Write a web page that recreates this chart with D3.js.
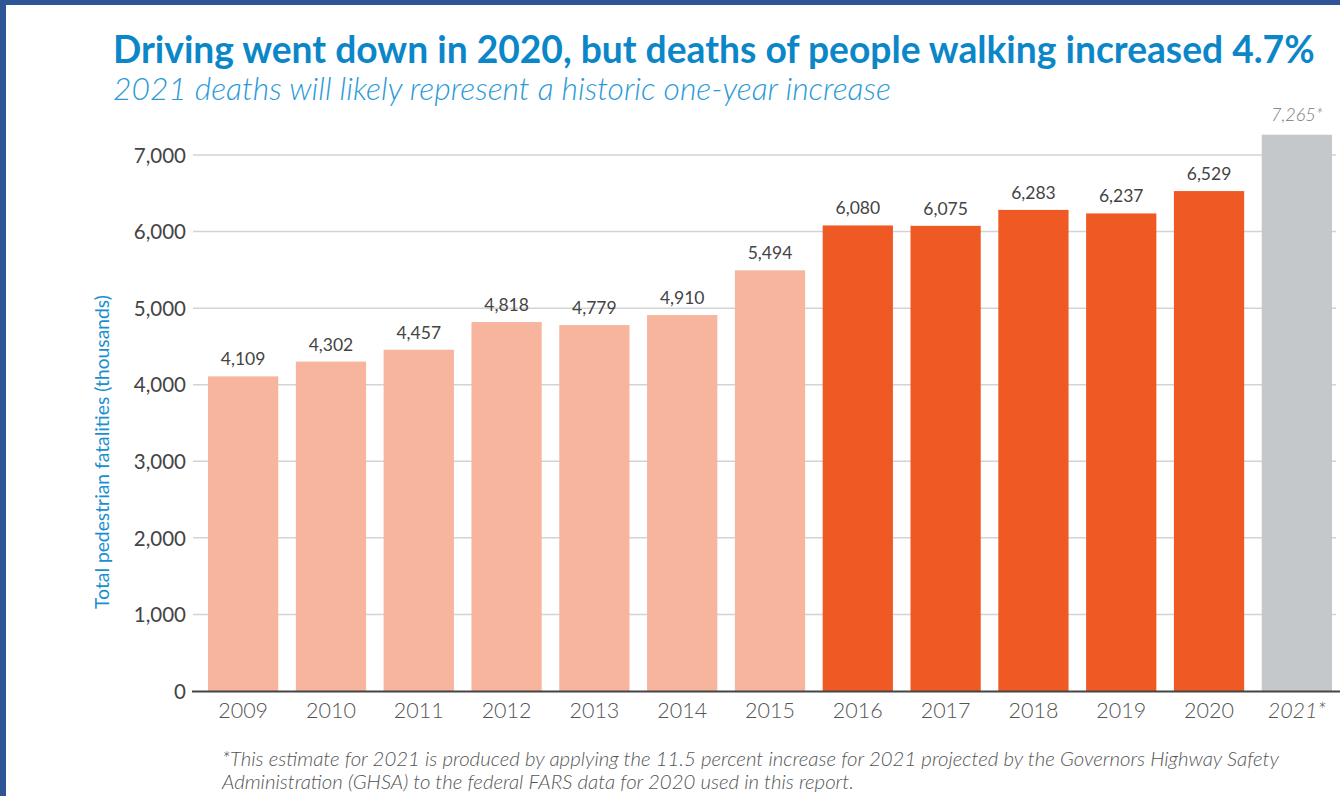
<!DOCTYPE html>
<html><head><meta charset="utf-8">
<script src="https://cdn.jsdelivr.net/npm/d3@7"></script>
<style>
html,body{margin:0;padding:0;background:#fff;overflow:hidden;}
svg{display:block;font-family:Lato,"Open Sans",sans-serif;}
</style></head>
<body>
<svg id="c" width="1340" height="796"></svg>
<script>
const years = ["2009","2010","2011","2012","2013","2014","2015","2016","2017","2018","2019","2020","2021*"];
const deaths = [4109,4302,4457,4818,4779,4910,5494,6080,6075,6283,6237,6529,7265];
const valueLabels = ["4,109","4,302","4,457","4,818","4,779","4,910","5,494","6,080","6,075","6,283","6,237","6,529","7,265*"];
const groups = ["past","past","past","past","past","past","past","recent","recent","recent","recent","recent","estimate"];
const yTicks = [0,1000,2000,3000,4000,5000,6000,7000];
const title = "Driving went down in 2020, but deaths of people walking increased 4.7%";
const subtitle = "2021 deaths will likely represent a historic one-year increase";
const yTitle = "Total pedestrian fatalities (thousands)";
const footnote = ["*This estimate for 2021 is produced by applying the 11.5 percent increase for 2021 projected by the Governors Highway Safety",
                  "Administration (GHSA) to the federal FARS data for 2020 used in this report."];
const colors = {past:"#f7b59e", recent:"#ef5a24", estimate:"#c5c8cb"};

const svg = d3.select("#c");
svg.append("rect").attr("x",0).attr("y",0).attr("width",1340).attr("height",796).attr("fill","#fff");
svg.append("rect").attr("x",0).attr("y",0).attr("width",1340).attr("height",5).attr("fill","#2e5597");
svg.append("rect").attr("x",0).attr("y",0).attr("width",6).attr("height",796).attr("fill","#2e5597");

const x = d3.scaleBand().domain(years).range([201,1339]).paddingInner(0.2).paddingOuter(0.08);
const y = d3.scaleLinear().domain([0,7000]).range([691,155]);

const grid = svg.append("g");
grid.selectAll("line").data(yTicks.filter(d=>d>0)).join("line")
  .attr("x1",193).attr("x2",1336).attr("y1",d=>y(d)).attr("y2",d=>y(d))
  .attr("stroke","#d3d3d3").attr("stroke-width",1.5);

const yAxis = d3.axisLeft(y).tickValues(yTicks).tickSize(0).tickPadding(0).tickFormat(d3.format(","));
const ya = svg.append("g").attr("transform","translate(186,0)").call(yAxis);
ya.select(".domain").remove();
ya.selectAll("text").attr("font-family","Lato").attr("font-size",20.5).attr("fill","#444").attr("dy","0.35em");

svg.append("g").selectAll("rect").data(years).join("rect")
  .attr("x",d=>x(d)).attr("width",x.bandwidth())
  .attr("y",(d,i)=>y(deaths[i])).attr("height",(d,i)=>y(0)-y(deaths[i]))
  .attr("fill",(d,i)=>colors[groups[i]]);

svg.append("line").attr("x1",192).attr("x2",1340).attr("y1",y(0)+0.5).attr("y2",y(0)+0.5)
  .attr("stroke","#444").attr("stroke-width",2);

svg.append("g").selectAll("text").data(years).join("text")
  .attr("x",d=>x(d)+x.bandwidth()/2)
  .attr("y",(d,i)=>y(deaths[i])-(groups[i]==="estimate"?14:11))
  .attr("text-anchor","middle")
  .attr("font-size",(d,i)=>groups[i]==="estimate"?18:17.5)
  .attr("font-style",(d,i)=>groups[i]==="estimate"?"italic":"normal")
  .attr("font-weight",(d,i)=>groups[i]==="estimate"?300:400)
  .attr("fill",(d,i)=>groups[i]==="estimate"?"#777":"#444")
  .text((d,i)=>valueLabels[i]);

const xAxis = d3.axisBottom(x).tickSize(0).tickPadding(0);
const xa = svg.append("g").attr("transform",`translate(0,${y(0)})`).call(xAxis);
xa.select(".domain").remove();
xa.selectAll("text").attr("font-family","Lato").attr("font-size",21.5).attr("font-weight",300)
  .attr("fill","#555").attr("y",27).attr("dy",0)
  .attr("font-style",d=>d.endsWith("*")?"italic":"normal");

svg.append("text").attr("x",113).attr("y",63).attr("font-size",37.2).attr("font-weight",700)
  .attr("fill","#0b87c9").text(title);
svg.append("text").attr("x",113).attr("y",100).attr("font-size",31.8).attr("font-weight",300)
  .attr("font-style","italic").attr("fill","#2b9ad7").text(subtitle);

svg.append("text").attr("transform","translate(109,452) rotate(-90)").attr("text-anchor","middle")
  .attr("font-size",19.3).attr("fill","#1a8fd0").text(yTitle);

svg.append("g").selectAll("text").data(footnote).join("text")
  .attr("x",222).attr("y",(d,i)=>766+i*23).attr("font-size",20.4).attr("font-weight",300)
  .attr("font-style","italic").attr("fill","#555").text(d=>d);
</script>
</body></html>
